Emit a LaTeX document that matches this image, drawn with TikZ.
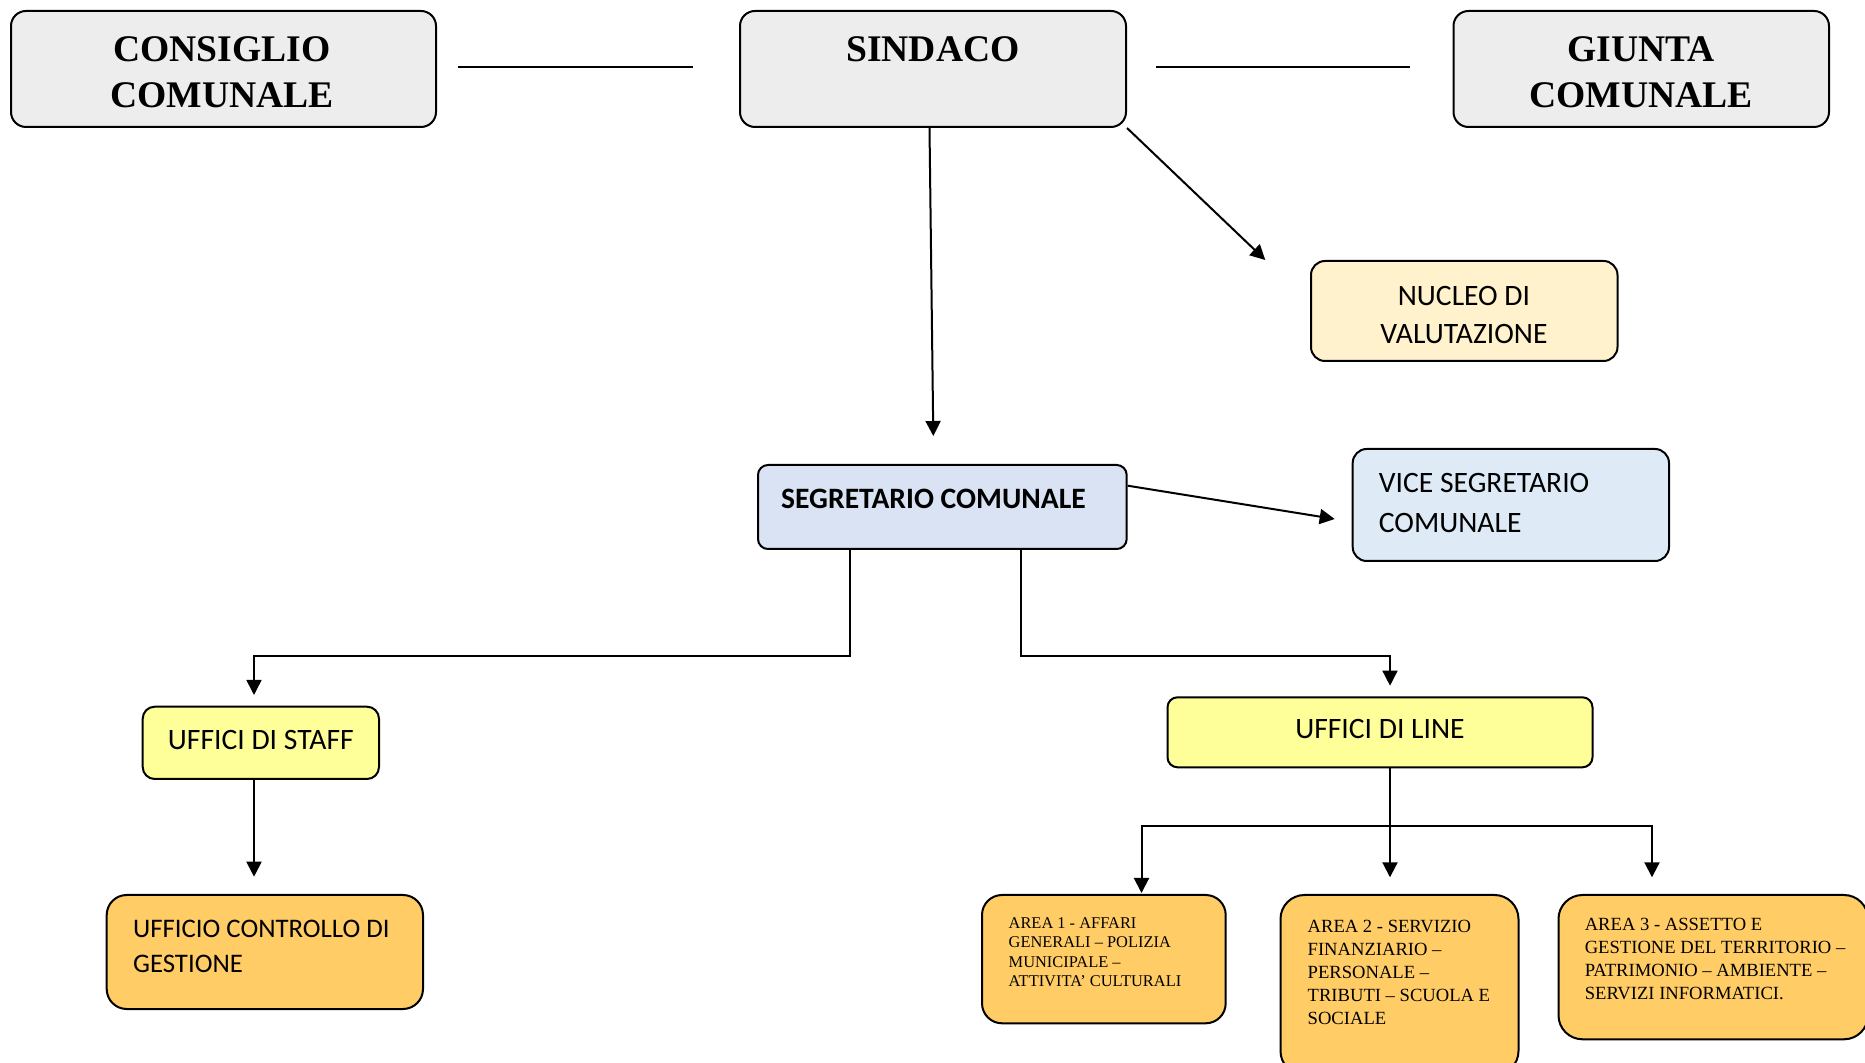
\documentclass[tikz,border=0pt]{standalone}
\usepackage{fontspec}
\setmainfont{Liberation Serif}
\newfontfamily\calfont{Carlito}
\usetikzlibrary{arrows.meta,fit,calc}
\definecolor{titlegray}{HTML}{EDEDED}
\definecolor{nucfill}{HTML}{FFF2CC}
\definecolor{segfill}{HTML}{DAE3F3}
\definecolor{vicefill}{HTML}{DEEBF7}
\definecolor{yelfill}{HTML}{FFFF99}
\definecolor{orfill}{HTML}{FFCC66}
\begin{document}
\begin{tikzpicture}[x=0.5pt,y=-0.5pt,
  box/.style={draw=black, line width=1pt, inner sep=0pt},
  tip/.style={-{Triangle[length=7.5pt,width=7.5pt]}},
  conn/.style={line width=1pt},
  thinconn/.style={line width=0.75pt},
  ttl/.style={inner sep=0pt, anchor=north, align=center, font=\bfseries\fontsize{18.8}{23.3}\selectfont},
  cal/.style={inner sep=0pt, font=\calfont\fontsize{14.8}{19}\selectfont},
  areatxt/.style={inner sep=0pt, anchor=north west, align=left}
]
\useasboundingbox (0,0) rectangle (1865,1063);
\clip (0,0) rectangle (1865,1063);

% top row
\node[box, fill=titlegray, rounded corners=7.5pt, fit={(11,11) (436,127)}] (cons) {};
\node[box, fill=titlegray, rounded corners=7.5pt, fit={(740,11) (1126,127)}] (sind) {};
\node[box, fill=titlegray, rounded corners=7.5pt, fit={(1453.5,11) (1829,127)}] (giun) {};
\node[ttl] (consT) at (222,36) {CONSIGLIO\\COMUNALE};
\node[ttl] (sindT) at (933,36) {SINDACO};
\node[ttl] (giunT) at (1641,36) {GIUNTA\\COMUNALE};

\coordinate (l1a) at (458,66.7);
\coordinate (l1b) at (693,66.7);
\coordinate (l2a) at (1156,66.7);
\coordinate (l2b) at (1409.5,66.7);
\draw[line width=1.1pt] (l1a) -- (l1b);
\draw[line width=1.1pt] (l2a) -- (l2b);

% nucleo
\node[box, fill=nucfill, rounded corners=7pt, fit={(1311,261) (1617.5,361)}] (nuc) {};
\node[cal, anchor=north, align=center] (nucT) at (1464,286) {NUCLEO DI\\VALUTAZIONE};
\coordinate (nucE) at (1265.3,260);
\draw[conn,tip] (sind.south east) -- (nucE);

% segretario
\node[box, fill=segfill, rounded corners=5pt, fit={(758,465) (1126.7,549)}] (seg) {};
\node[cal, anchor=north west, font=\calfont\bfseries\fontsize{14.8}{19}\selectfont] (segT) at (780.8,488.3) {SEGRETARIO COMUNALE};
\coordinate (segE) at (933.3,436);
\draw[conn,tip] ($(sind.south)+(-3.5,0)$) -- (segE);

% vice
\node[box, fill=vicefill, rounded corners=7pt, fit={(1352.7,449) (1669,561)}] (vice) {};
\node[cal, anchor=north west, align=left, font=\calfont\fontsize{14.8}{19.6}\selectfont] (viceT) at (1378.5,473.3) {VICE SEGRETARIO\\COMUNALE};
\coordinate (viceE) at (1334.7,519);
\draw[conn,tip] ($(seg.east)+(0,-21.3)$) -- (viceE);

% staff and line
\node[box, fill=yelfill, rounded corners=6pt, fit={(142.7,706.7) (379,779)}] (staff) {};
\node[cal] (staffT) at ($(staff.center)+(0,-2.8)$) {UFFICI DI STAFF};
\node[box, fill=yelfill, rounded corners=5pt, fit={(1167.5,697.3) (1592.5,767.3)}] (line) {};
\node[cal] (lineT) at ($(line.center)+(0,-3.5)$) {UFFICI DI LINE};

\draw[thinconn,tip] ($(seg.south west)+(93,0)$) -- ++(0,106) -| ($(staff.north west)+(112.3,-10.7)$);
\draw[thinconn,tip] ($(seg.south west)+(263.8,0)$) -- ++(0,106) -| ($(line.north west)+(223.5,-10.6)$);

% controllo
\node[box, fill=orfill, rounded corners=10pt, fit={(106.7,895) (423,1009)}] (ctrl) {};
\node[cal, anchor=north west, align=left, font=\calfont\fontsize{13.4}{17.5}\selectfont] (ctrlT) at (132.7,919.3) {UFFICIO CONTROLLO DI\\GESTIONE};
\draw[conn,tip] ($(staff.south west)+(112.3,0)$) -- ($(ctrl.north west)+(148.3,-17.3)$);

% areas
\node[box, fill=orfill, rounded corners=10pt, fit={(982,895) (1225.7,1023.3)}] (a1) {};
\node[box, fill=orfill, rounded corners=12pt, fit={(1280.5,895) (1518.5,1075)}] (a2) {};
\node[box, fill=orfill, rounded corners=12pt, fit={(1558.5,895) (1868,1039.3)}] (a3) {};
\node[areatxt, font=\fontsize{8.2}{9.7}\selectfont] (a1T) at (1008.3,917.3) {AREA 1 - AFFARI\\GENERALI – POLIZIA\\MUNICIPALE –\\ATTIVITA’ CULTURALI};
\node[areatxt, font=\fontsize{9.3}{11.6}\selectfont] (a2T) at (1307.3,919.3) {AREA 2 - SERVIZIO\\FINANZIARIO –\\PERSONALE –\\TRIBUTI – SCUOLA E\\SOCIALE};
\node[areatxt, font=\fontsize{9.3}{11.6}\selectfont] (a3T) at (1584.4,917.3) {AREA 3 - ASSETTO E\\GESTIONE DEL TERRITORIO –\\PATRIMONIO – AMBIENTE –\\SERVIZI INFORMATICI.};

\coordinate (lj) at ($(line.south west)+(223.5,58)$);
\draw[conn] ($(line.south west)+(223.5,0)$) -- (lj);
\draw[conn,tip] (lj) -- ($(a2.north west)+(110.5,-16.7)$);
\draw[conn,tip] (lj) -| ($(a1.north west)+(160.5,-1)$);
\draw[conn,tip] (lj) -| ($(a3.north west)+(94.5,-16.7)$);
\end{tikzpicture}
\end{document}
